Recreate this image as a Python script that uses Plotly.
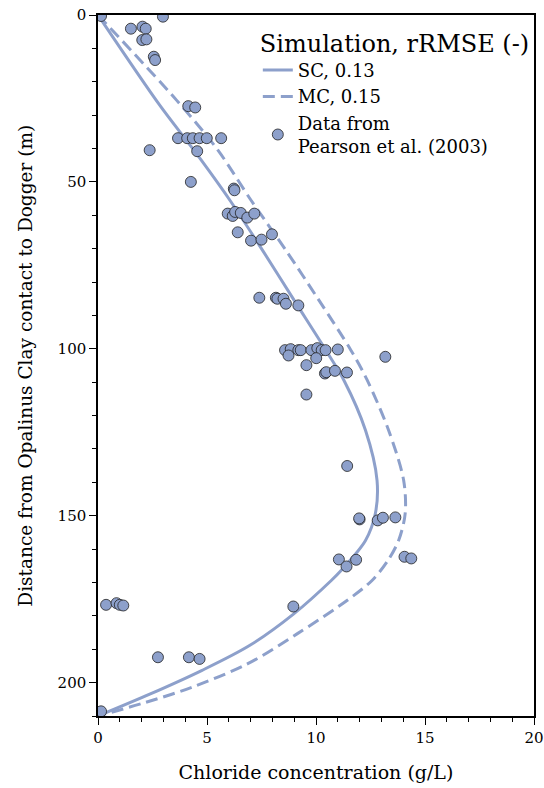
import plotly.graph_objects as go

# Simulated chloride profiles (depth in m, concentration in g/L)
sc_depth = [0, 27, 40.5, 55.5, 70.5, 85.5, 100.4, 109.4, 124.4, 139.4, 149.4, 157.4, 166.4, 169.4, 179.4, 188.9, 196.4, 203.4, 210]
sc_conc = [0, 2.83, 4.4, 6.05, 7.55, 9.0, 10.45, 11.28, 12.27, 12.8, 12.72, 12.27, 11.15, 10.7, 8.98, 6.95, 4.75, 2.4, 0]

mc_depth = [0, 25.5, 40.5, 55.5, 70.5, 85.5, 100.4, 109.4, 124.4, 139.4, 149.4, 157.4, 163.4, 169.4, 175.4, 185.4, 194.4, 201.4, 205.9, 210]
mc_conc = [0, 3.6, 5.5, 7.02, 8.62, 10.14, 11.6, 12.35, 13.33, 14.02, 14.09, 13.79, 13.3, 12.57, 11.42, 9.13, 6.85, 4.3, 2.2, 0]

# Measured data, Pearson et al. (2003)
obs_conc = [0.14, 1.51, 2.04, 2.19, 2.98, 2.03, 2.22, 2.56, 2.62, 4.14, 4.46,
            3.67, 4.09, 4.35, 4.66, 4.99, 5.65, 2.37, 4.55, 4.26, 6.23, 6.26,
            5.95, 6.18, 6.29, 6.55, 6.85, 7.17, 6.41, 7.02, 7.5, 7.98,
            7.40, 8.16, 8.23, 8.51, 8.62, 9.19,
            8.58, 8.84, 9.19, 9.3, 9.79, 10.06, 10.26, 10.44, 11.0, 8.74, 10.01, 9.56, 13.18,
            10.41, 10.47, 10.87, 11.42, 9.56,
            11.43, 12.0, 11.98, 12.83, 13.07, 13.64, 11.05, 11.4, 11.84, 14.06, 14.37,
            0.37, 0.85, 1.0, 1.16, 8.96, 2.75, 4.17, 4.66, 0.14]
obs_depth = [0.3, 4.1, 3.5, 4.1, 0.5, 7.5, 7.3, 12.5, 13.5, 27.3, 27.7,
             36.9, 36.9, 36.9, 36.9, 36.9, 36.9, 40.5, 40.8, 50.0, 52.0, 52.5,
             59.5, 60.2, 59.0, 59.3, 60.7, 59.5, 65.1, 67.6, 67.3, 65.7,
             84.7, 84.7, 85.0, 85.0, 86.5, 87.0,
             100.4, 100.1, 100.4, 100.4, 100.4, 99.8, 100.4, 100.4, 100.2, 102.0, 102.8, 104.9, 102.4,
             107.4, 107.0, 106.6, 107.1, 113.7,
             135.1, 151.1, 150.8, 151.4, 150.6, 150.5, 163.1, 165.2, 163.2, 162.3, 162.8,
             176.7, 176.2, 176.7, 176.9, 177.2, 192.4, 192.4, 192.9, 208.6]

blue = "#8da0cb"
font_family = "DejaVu Serif"

fig = go.Figure()
fig.add_trace(go.Scatter(
    x=sc_conc, y=sc_depth, mode="lines", name="SC, 0.13",
    line=dict(color=blue, width=3, shape="spline", smoothing=0.9),
))
fig.add_trace(go.Scatter(
    x=mc_conc, y=mc_depth, mode="lines", name="MC, 0.15",
    line=dict(color=blue, width=3, dash="12px,6px", shape="spline", smoothing=0.9),
))
fig.add_trace(go.Scatter(
    x=obs_conc, y=obs_depth, mode="markers", name="Data from<br>Pearson et al. (2003)",
    marker=dict(color=blue, size=11, line=dict(color="#222222", width=0.8)),
))

axis_common = dict(
    showline=True, linecolor="black", linewidth=1.5, mirror=True,
    ticks="outside", tickcolor="black", tickwidth=1.2, ticklen=7,
    showgrid=False, zeroline=False, automargin=False,
    ticklabeloverflow="allow",
    tickfont=dict(family=font_family, size=15, color="black"),
)

fig.update_layout(
    width=544, height=788,
    margin=dict(l=98, r=10, t=15, b=72),
    paper_bgcolor="white", plot_bgcolor="white",
    font=dict(family=font_family, color="black"),
    xaxis=dict(
        range=[0, 20], tickvals=[0, 5, 10, 15, 20],
        minor=dict(dtick=1, ticks="outside", ticklen=4, tickcolor="black", tickwidth=1),
        title=dict(text="Chloride concentration (g/L)", font=dict(size=19, family=font_family), standoff=20),
        **axis_common,
    ),
    yaxis=dict(
        range=[210, 0], tickvals=[0, 50, 100, 150, 200],
        minor=dict(dtick=10, ticks="outside", ticklen=4, tickcolor="black", tickwidth=1),
        **axis_common,
    ),
    annotations=[dict(
        text="Distance from Opalinus Clay contact to Dogger (m)",
        xref="paper", yref="paper", x=-0.167, y=0.5,
        xanchor="center", yanchor="middle", textangle=-90, showarrow=False,
        font=dict(size=18.5, family=font_family, color="black"),
    )],
    legend=dict(
        x=0.995, y=0.992, xanchor="right", yanchor="top",
        bgcolor="rgba(255,255,255,0)",
        title=dict(text="Simulation, rRMSE (-)", font=dict(size=24, family=font_family)),
        font=dict(size=18, family=font_family),
        tracegroupgap=0, itemwidth=30,
    ),
    showlegend=True,
)

fig.write_html("out.html")
